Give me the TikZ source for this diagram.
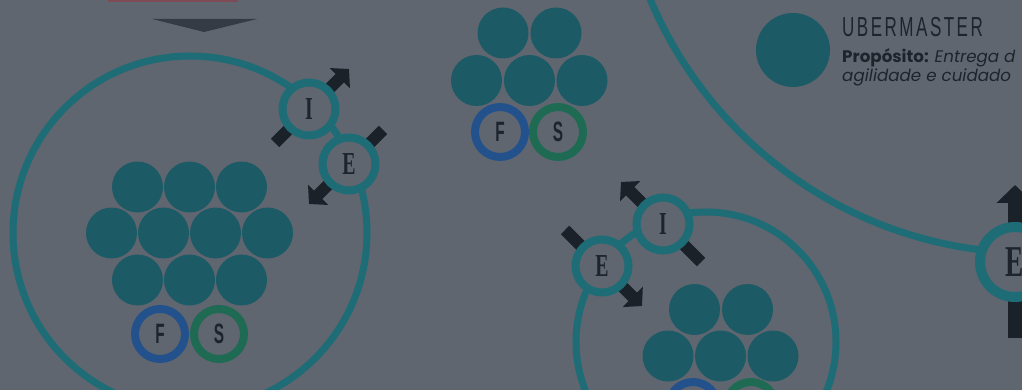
\documentclass[tikz,border=0pt]{standalone}
\usepackage{fontspec}
\setmainfont{Liberation Serif}
\newfontfamily\ieFont[FakeStretch=0.62]{Liberation Serif}
\newfontfamily\fsFont[FakeStretch=0.55]{Liberation Sans}
\newfontfamily\ubFont[FakeStretch=0.62,LetterSpace=9]{Liberation Sans}
\newfontfamily\popFont{Poppins}
\usetikzlibrary{arrows.meta,calc}
\definecolor{bgc}{HTML}{5F6670}
\definecolor{ringc}{HTML}{1E6C75}
\definecolor{blobc}{HTML}{1C5B65}
\definecolor{darkc}{HTML}{1B2129}
\definecolor{txtc}{HTML}{1E242C}
\definecolor{fblue}{HTML}{23518B}
\definecolor{sgreen}{HTML}{1F6A52}
\definecolor{redc}{HTML}{7E4A55}
\definecolor{tric}{HTML}{343B45}
\begin{document}
\begin{tikzpicture}[x=1pt,y=-1pt,
  bigring/.style={draw=ringc, line width=7pt},
  gate/.style={circle, draw=ringc, line width=8pt, fill=bgc, minimum size=53pt, inner sep=0pt, font=\ieFont\bfseries\fontsize{32}{32}\selectfont, text=txtc},
  biggate/.style={gate, line width=10pt, minimum size=70pt, font=\ieFont\bfseries\fontsize{44}{44}\selectfont},
  blob/.style={circle, fill=blobc, minimum size=51pt, inner sep=0pt},
  fsring/.style={circle, line width=8pt, minimum size=50pt, inner sep=0pt, font=\fsFont\bfseries\fontsize{28}{28}\selectfont, text=txtc},
  fring/.style={fsring, draw=fblue},
  sring/.style={fsring, draw=sgreen},
  flow/.style={draw=darkc, line width=12pt, -{Triangle[length=13pt,width=28pt]}},
  bigflow/.style={draw=darkc, line width=15pt, -{Triangle[length=18pt,width=36pt]}},
  txt/.style={anchor=base west, inner sep=0pt, text=txtc},
]
\path[use as bounding box, clip] (0,0) rectangle (1022,390);
\fill[bgc] (0,0) rectangle (1022,390);

% top remnants
\fill[redc] (108,0) rectangle (238,2);
\fill[tric] (152,19) -- (257,19) -- (204,32) -- cycle;

% gate centres
\coordinate (lIc) at (309,109);
\coordinate (lEc) at (349,164);
\coordinate (rIc) at (663,224);
\coordinate (rEc) at (602,266);
\coordinate (bEc) at (1015,262);

% big circles
\draw[bigring] (190,233) circle[radius=177];
\draw[bigring] (706,342) circle[radius=130];
\draw[bigring] (1032,-161) circle[radius=414];

% flows
\coordinate (lIt) at ($(lIc)+(-34,34)$);  \coordinate (lIh) at ($(lIc)+(40,-40)$);
\coordinate (lEt) at ($(lEc)+(34,-34)$);  \coordinate (lEh) at ($(lEc)+(-40,40)$);
\coordinate (rIt) at ($(rIc)+(38,38)$);   \coordinate (rIh) at ($(rIc)+(-42,-42)$);
\coordinate (rEt) at ($(rEc)+(-37,-36)$); \coordinate (rEh) at ($(rEc)+(40,40)$);
\coordinate (bEt) at ($(bEc)+(0,76)$);    \coordinate (bEh) at ($(bEc)+(0,-77)$);
\draw[flow] (lIt) -- (lIh);
\draw[flow] (lEt) -- (lEh);
\draw[flow] (rIt) -- (rIh);
\draw[flow] (rEt) -- (rEh);
\draw[bigflow] (bEt) -- (bEh);

% gates
\node[gate] (lI) at (lIc) {I};
\node[gate] (lE) at (lEc) {E};
\node[gate] (rI) at (rIc) {I};
\node[gate] (rE) at (rEc) {E};
\node[biggate] (bE) at (bEc) {E};

% left cluster
\foreach \x [count=\i] in {137.5,189.5,241.5} {
  \node[blob] (la\i) at (\x,187) {};
  \node[blob] (lc\i) at (\x,280) {};
}
\foreach \x [count=\i] in {111.5,163.5,215.5,267.5} {
  \node[blob] (lb\i) at (\x,233) {};
}
\node[fring] (lF) at (160,334) {F};
\node[sring] (lS) at (219,334) {S};

% top-middle cluster
\foreach \x [count=\i] in {503,556} { \node[blob] (ta\i) at (\x,33) {}; }
\foreach \x [count=\i] in {476.5,529.5,582} { \node[blob] (tb\i) at (\x,80.5) {}; }
\node[fring] (tF) at (500,132) {F};
\node[sring] (tS) at (558,132) {S};

% right cluster
\foreach \x [count=\i] in {694.5,747.5} { \node[blob] (ra\i) at (\x,309.5) {}; }
\foreach \x [count=\i] in {668,720.5,773} { \node[blob] (rb\i) at (\x,356) {}; }
\node[fring] (rF) at (693,407) {};
\node[sring] (rS) at (751,407) {};

% legend
\node[circle, fill=blobc, minimum size=74pt, inner sep=0pt] (ubdot) at (793,50) {};
\node[txt, font=\ubFont\fontsize{27.5}{27.5}\selectfont] (ub) at (842,37) {UBERMASTER};
\node[txt, font=\popFont\fontsize{16.7}{16.7}\selectfont] (p1) at (842,63) {\textbf{Propósito:} \textit{Entrega d}};
\node[txt, font=\popFont\fontsize{16.7}{16.7}\selectfont] (p2) at (842,81.5) {\textit{agilidade e cuidado}};
\end{tikzpicture}
\end{document}
